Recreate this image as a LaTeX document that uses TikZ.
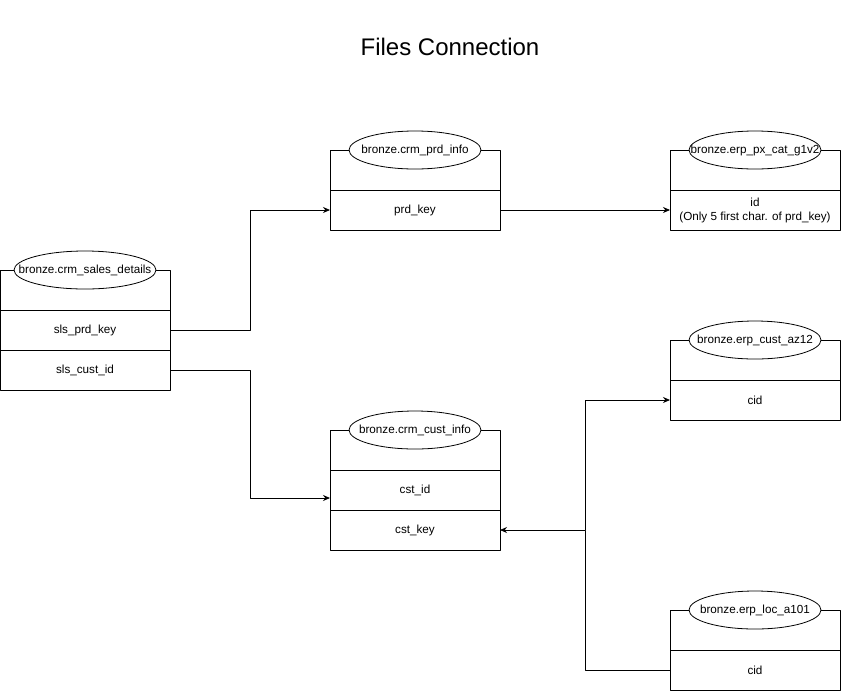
\documentclass[tikz,border=0pt]{standalone}
\usepackage{fontspec}
\setmainfont{Liberation Sans}
\usetikzlibrary{positioning,shapes.geometric,arrows.meta}

\newcommand{\tabtext}[1]{\makebox[0pt]{#1}}

\begin{document}
\begin{tikzpicture}[
	x=1pt, y=-1pt,
	line join=round,
	>={Stealth[length=7pt,width=6pt]},
	font=\fontsize{11.7}{14}\selectfont,
	hdr/.style={draw, line width=0.8pt, minimum width=170pt, minimum height=40pt, inner sep=0pt, outer sep=0pt, anchor=north west},
	field/.style={draw, line width=0.8pt, minimum width=170pt, minimum height=40pt, inner sep=0pt, outer sep=0pt, align=center, below=0pt of #1},
	tabname/.style={draw, line width=0.8pt, ellipse, fill=white, minimum width=132pt, minimum height=38pt, inner sep=0pt},
	link/.style={->, line width=0.8pt}
	]

	\useasboundingbox (0,0) rectangle (842,691);

	% Title
	\node[font=\fontsize{24}{28}\selectfont] (title) at (450,47) {Files Connection};

	% Tables
	\node[hdr] (hsales) at (0,270) {};
	\node[field=hsales] (slsprd) {sls\_prd\_key};
	\node[field=slsprd] (slscust) {sls\_cust\_id};
	\node[tabname, minimum width=142pt] (nsales) at (hsales.north) {\tabtext{bronze.crm\_sales\_details}};

	\node[hdr] (hprd) at (330,150) {};
	\node[field=hprd] (prdkey) {prd\_key};
	\node[tabname] (nprd) at (hprd.north) {\tabtext{bronze.crm\_prd\_info}};

	\node[hdr] (hpxcat) at (670,150) {};
	\node[field=hpxcat] (pxid) {id\\(Only 5 first char. of prd\_key)};
	\node[tabname] (npxcat) at (hpxcat.north) {\tabtext{bronze.erp\_px\_cat\_g1v2}};

	\node[hdr] (haz) at (670,340) {};
	\node[field=haz] (azcid) {cid};
	\node[tabname] (naz) at (haz.north) {\tabtext{bronze.erp\_cust\_az12}};

	\node[hdr] (hcust) at (330,430) {};
	\node[field=hcust] (cstid) {cst\_id};
	\node[field=cstid] (cstkey) {cst\_key};
	\node[tabname] (ncust) at (hcust.north) {\tabtext{bronze.crm\_cust\_info}};

	\node[hdr] (hloc) at (670,610) {};
	\node[field=hloc] (loccid) {cid};
	\node[tabname] (nloc) at (hloc.north) {\tabtext{bronze.erp\_loc\_a101}};

	% Connections
	\draw[link] (slsprd.east) -- ++(80,0) |- (prdkey.west);
	\draw[link] (prdkey.east) -- (pxid.west);
	\draw[link] (slscust.east) -- ++(80,0) |- ([yshift=-8pt]cstid.west);

	\coordinate (junc) at ([xshift=85pt]cstkey.east);
	\draw[link] (loccid.west) -| (junc) -- (cstkey.east);
	\draw[link] (junc) |- (azcid.west);

\end{tikzpicture}
\end{document}
